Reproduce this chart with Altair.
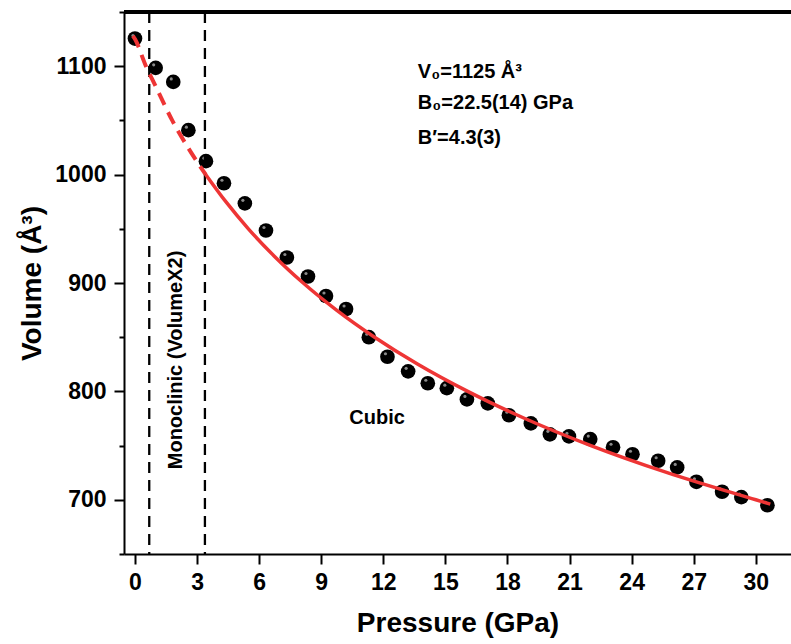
import altair as alt
import pandas as pd

# Measured data points (pressure in GPa, volume in Å^3)
pressure = [0.0, 1.0, 1.85, 2.58, 3.43, 4.30, 5.31, 6.33, 7.34, 8.36, 9.23, 10.2,
            11.3, 12.2, 13.2, 14.15, 15.07, 16.04, 17.05, 18.07, 19.13, 20.05,
            20.97, 22.0, 23.1, 24.04, 25.28, 26.2, 27.13, 28.37, 29.3, 30.56]
volume = [1125.5, 1098.5, 1085.5, 1041, 1012.4, 992, 973.5, 948.4, 923.5, 906, 888, 876,
          850, 832, 818.5, 807.5, 803, 792.6, 789, 778, 770.5, 760.4,
          758.5, 756, 748.5, 742, 736, 729.9, 716.6, 707.4, 702.5, 695]

# Fitted EOS curve: dashed (monoclinic range) and solid part
fit_p_dashed = [-0.1, 0.0, 0.53, 1.0, 1.80, 2.56, 3.42]
fit_v_dashed = [1128, 1125, 1100, 1081.5, 1050, 1025, 1000]
fit_p_solid = [3.42, 4.39, 5.48, 6.72, 8.13, 9.74, 11.58, 13.67, 16.08, 18.84, 22.03, 25.72, 30.0, 30.7]
fit_v_solid = [1000, 975, 950, 925, 900, 875, 850, 825, 800, 775, 750, 725, 700, 696]

# Phase boundaries (dashed vertical lines)
phase_bounds = [0.69, 3.38]

# Axis ticks
x_major = [0, 3, 6, 9, 12, 15, 18, 21, 24, 27, 30]
x_minor = [1.5, 4.5, 7.5, 10.5, 13.5, 16.5, 19.5, 22.5, 25.5, 28.5, 31.5]
y_major = [700, 800, 900, 1000, 1100]
y_minor = [650, 750, 850, 950, 1050, 1150]

# Annotations
params_text = ["V₀=1125 Å³", "B₀=22.5(14) GPa", "B′=4.3(3)"]
params_x = [13.67, 13.67, 13.67]
params_y = [1094.5, 1066, 1033.5]

FONT = "Liberation Sans"

pts = pd.DataFrame({"P": pressure, "V": volume})
fit_d = pd.DataFrame({"P": fit_p_dashed, "V": fit_v_dashed})
fit_s = pd.DataFrame({"P": fit_p_solid, "V": fit_v_solid})
bounds = pd.DataFrame({"P": phase_bounds})
params = pd.DataFrame({"P": params_x, "V": params_y, "t": params_text})
cubic = pd.DataFrame({"P": [11.7], "V": [775.5], "t": ["Cubic"]})
mono = pd.DataFrame({"P": [2.0], "V": [829], "t": ["Monoclinic (VolumeX2)"]})

x_scale = alt.Scale(domain=[-0.53, 31.7], nice=False, zero=False)
y_scale = alt.Scale(domain=[650, 1150], nice=False, zero=False)

x_axis = alt.Axis(
    title="Pressure (GPa)",
    values=sorted(x_major + x_minor),
    format="d",
    labelExpr="datum.value % 3 === 0 ? datum.label : ''",
    tickSize={"condition": {"test": "datum.value % 3 === 0", "value": 10}, "value": 5},
    grid=False, domainColor="black", domainWidth=2, tickColor="black", tickWidth=2,
    labelFont=FONT, labelFontSize=23, labelFontWeight="bold", labelColor="black",
    labelPadding=7, labelFlush=False, labelOverlap=False,
    titleFont=FONT, titleFontSize=28, titleFontWeight="bold", titleColor="black",
    titlePadding=15,
)
y_axis = alt.Axis(
    title="Volume (Å³)",
    values=sorted(y_major + y_minor),
    format="d",
    labelExpr="datum.value % 100 === 0 ? datum.label : ''",
    tickSize={"condition": {"test": "datum.value % 100 === 0", "value": 10}, "value": 5},
    grid=False, domainColor="black", domainWidth=2, tickColor="black", tickWidth=2,
    labelFont=FONT, labelFontSize=23, labelFontWeight="bold", labelColor="black",
    labelPadding=8, labelFlush=False, labelOverlap=False,
    titleFont=FONT, titleFontSize=28, titleFontWeight="bold", titleColor="black",
    titlePadding=8,
)

X = alt.X("P:Q", scale=x_scale, axis=x_axis)
Y = alt.Y("V:Q", scale=y_scale, axis=y_axis)
Xn = alt.X("P:Q", scale=x_scale)
Yn = alt.Y("V:Q", scale=y_scale)

points = alt.Chart(pts).mark_circle(size=215, color="black", opacity=1).encode(x=X, y=Y)
glint = alt.Chart(pts).mark_circle(size=10, color="#8a8a8a", opacity=1, xOffset=-2, yOffset=-3).encode(x=Xn, y=Yn)

vlines = alt.Chart(bounds).mark_rule(color="black", strokeWidth=2.3, strokeDash=[11, 7]).encode(x=Xn)
top_border = alt.Chart(pts).mark_rule(color="black", strokeWidth=2.5).encode(y=alt.datum(1150, scale=y_scale))

line_d = alt.Chart(fit_d).mark_line(color="#EE3535", strokeWidth=4, strokeDash=[13, 8],
                                    interpolate="monotone").encode(x=Xn, y=Yn, order="P:Q")
line_s = alt.Chart(fit_s).mark_line(color="#EE3535", strokeWidth=3.5,
                                    interpolate="monotone").encode(x=Xn, y=Yn, order="P:Q")

txt_params = alt.Chart(params).mark_text(font=FONT, fontSize=20, fontWeight="bold", color="black",
                                         align="left", baseline="middle").encode(x=Xn, y=Yn, text="t:N")
txt_cubic = alt.Chart(cubic).mark_text(font=FONT, fontSize=20, fontWeight="bold", color="black",
                                       align="center", baseline="middle").encode(x=Xn, y=Yn, text="t:N")
txt_mono = alt.Chart(mono).mark_text(font=FONT, fontSize=20, fontWeight="bold", color="black",
                                     align="center", baseline="middle", angle=270).encode(x=Xn, y=Yn, text="t:N")

chart = alt.layer(
    points, glint, vlines, top_border, line_d, line_s, txt_params, txt_cubic, txt_mono
).properties(
    width=667, height=542,
    padding={"left": 124, "top": 12, "right": 0, "bottom": 90},
    autosize=alt.AutoSizeParams(type="none"),
    background="white",
).configure_view(stroke=None)

chart.save("out.html", embed_options={"renderer": "svg", "actions": False})
